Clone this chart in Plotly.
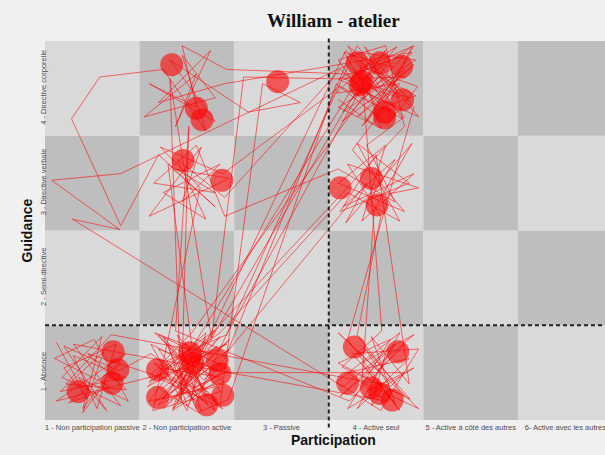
import plotly.graph_objects as go

# ---------------- data ----------------
participation_labels = ["1 - Non participation passive", "2 - Non participation active", "3 - Passive",
                        "4 - Active seul", "5 - Active à côté des autres", "6- Active avec les autres"]
guidance_labels = ["1 - Absence", "2 - Semi-directive", "3 - Directive verbale", "4 - Directive corporelle"]

sequence_points = [
    (0.62,1.32),(0.95,0.72),(0.7,1.05),(1.25,1.3),(1.05,0.62),(0.8,1.18),(1.35,0.95),(0.66,0.8),(1.12,1.22),(0.9,0.58),
    (1.3,1.1),(0.75,0.68),(1.2,0.85),(0.6,1.15),(1.02,1.35),(1.38,0.7),(0.85,0.95),(1.15,0.6),(0.7,1.28),(1.28,1.02),
    (1.62,1.2),(2.3,0.7),(1.75,1.38),(2.1,0.62),(1.9,1.1),(2.42,1.3),(1.58,0.85),(2.2,1.42),(2.05,0.75),(1.7,1.05),
    (2.38,0.95),(1.85,0.6),(2.15,1.25),(1.95,0.9),(2.35,1.38),(1.65,0.68),(2.25,1.05),(1.8,1.3),(2.0,0.65),(2.4,1.15),
    (3.72,4.35),(4.2,3.8),(3.6,4.1),(4.4,4.45),(3.9,3.65),(4.3,4.2),(3.65,3.75),(4.1,4.4),(3.8,4.0),(4.45,3.7),
    (3.95,4.3),(3.58,3.95),(4.25,4.05),(3.85,3.6),(4.38,4.38),
    (2.4,4.05),(1.7,3.85),(2.25,4.4),(1.88,3.6),(2.1,4.15),(1.55,3.7),(2.3,3.9),(1.95,4.35),(2.2,3.55),(1.75,4.2),
    (1.08,4.12),(0.78,3.68),(1.3,2.55),
    (1.7,3.3),(2.3,2.75),(1.85,3.15),(2.45,3.05),(1.6,2.65),(2.15,3.38),(1.95,2.8),(2.35,3.2),(1.75,2.9),(2.2,2.62),
    (1.9,3.25),(2.4,2.85),
    (3.62,4.2),(4.15,3.75),(3.7,4.45),(4.35,3.9),(3.9,4.05),(4.05,3.58),(3.6,3.8),(4.42,4.3),(3.82,4.38),(4.2,3.95),
    (3.75,3.35),(4.3,2.7),(3.6,3.0),(4.1,3.4),(3.85,2.6),(4.4,3.1),(3.65,2.75),(4.2,3.25),(3.95,2.85),(4.45,2.95),
    (3.7,3.2),(4.05,2.65),
    (3.8,1.4),(4.3,0.75),(3.6,1.1),(4.15,1.35),(3.7,0.62),(4.4,1.05),(3.9,0.8),(4.25,1.42),(3.58,0.9),(4.05,0.6),
    (4.45,1.25),(3.75,1.2),(4.2,0.68),(3.95,1.38),(4.35,0.88),
    (4.0,3.3),(3.62,2.7),(4.35,3.0),(3.8,3.42),(4.25,2.6),(3.7,2.9),
    (2.35,1.42),(1.6,0.9),(2.1,1.3),(1.85,0.62),(2.42,1.05),(1.7,1.4),(2.2,0.8),(1.95,1.2),(2.3,0.6),(1.65,1.1),
    (2.05,0.95),(2.45,1.35),(1.8,0.75),(2.15,1.15),(1.9,0.68),
    (3.68,4.4),(4.2,4.0),(3.8,3.7),(4.4,4.25),(3.92,3.85),(3.6,4.3),(4.1,4.45),(4.3,3.6),
    (2.25,1.4),(1.75,0.72),(2.4,0.9),(1.62,1.3),(2.0,0.6),(2.2,1.2),(1.85,1.0),(2.35,0.65),
    (2.8,4.05),(3.2,3.85),(2.65,3.75),
    (1.82,4.3),(2.3,3.65),(1.6,4.05),(2.1,3.8),(1.95,4.45),(2.42,4.2),
    (3.75,4.15),(4.3,4.35),(3.64,3.65),(4.1,4.0),(3.88,4.44),(4.4,3.8),
    (3.7,1.35),(4.25,0.6),(3.85,1.1),(4.4,1.4),(3.62,0.75),(4.1,1.2),(3.95,0.65),(4.3,1.0),
    (2.4,1.0),(1.7,1.25),(2.15,0.6),(1.9,1.4),(2.3,0.85),(1.6,0.7),(2.05,1.3),
    (1.8,3.2),(2.3,2.9),(1.65,3.0),(2.1,3.4),(2.4,2.65),
    (3.6,3.15),(4.2,2.8),(3.9,3.4),(4.3,3.7),(3.7,4.25),
    (1.3,3.1),(0.57,3.03),(1.29,2.51),(0.79,2.62),
    (3.65,0.85),(4.2,1.3),(3.8,0.62),(4.35,1.15),(3.7,1.0),(4.1,0.7),
    (0.8,1.3),(1.3,0.65),(0.68,0.95),(1.1,1.38),(0.9,0.62),(1.35,1.2),(0.62,0.7),
    (2.2,1.1),(1.75,0.62),(2.45,1.25),(1.9,0.85),(2.3,1.45),(1.68,1.0),(2.1,0.7),
    (3.8,4.45),(4.25,3.9),(3.66,4.1),(4.15,4.3),
    (2.05,1.42),(1.62,0.98),(2.38,0.62),(1.98,1.02),(2.32,1.28),(1.72,0.82),(2.12,0.58),(2.44,0.72),
    (3.58,4.05),(4.12,3.62),(4.44,4.02),(3.86,4.22),(4.22,4.44),(3.72,3.86),
    (1.92,0.78),(2.28,1.18),(1.66,1.42),(2.18,0.92),
    (3.9,3.0),(3.68,2.58),(4.38,3.42),(3.98,2.72),
    (3.85,0.9),(4.45,0.62),(3.6,1.42),(4.02,1.02),(4.3,1.3),(3.72,0.7),
    (1.88,1.44),(2.02,3.6),(1.94,0.7),(1.82,4.1),(2.26,1.36),(2.6,4.12),(3.62,4.1),
    (4.32,4.12),(3.76,3.92),(4.18,4.22),(3.66,4.38),(4.02,3.78),(4.42,3.92),(3.94,4.18),
    (2.42,1.4),(1.78,1.12),(2.22,0.66),(1.98,1.32),(2.36,0.8),(1.64,0.6),
    (2.14,2.95),(1.72,3.38),(2.38,3.1),(3.62,4.02),(4.28,3.68),(3.84,4.3),
    (4.06,1.44),(3.64,1.06),(4.36,0.72),(3.88,1.26),(4.14,0.86),
    (1.2,1.4),(0.72,0.88),(1.36,0.82),(0.95,1.2),
    (2.08,0.84),(2.44,1.02),(1.7,0.66),(2.2,1.36),(1.84,0.92),
    (3.78,4.05),(4.38,4.44),(3.98,3.62),(3.6,3.88),
]
participation = [p for p, g in sequence_points]
guidance = [g for p, g in sequence_points]

# long-duration observations (drawn as circles)
circle_participation = [1.84, 2.10, 2.16, 2.96, 1.96, 2.37,
                        3.80, 4.04, 4.27, 3.85, 3.83, 4.28, 4.09, 4.09,
                        3.62, 3.95, 4.01,
                        1.22, 1.27, 1.21, 0.85,
                        1.69, 1.69, 2.03, 2.32, 2.35, 2.21, 2.38, 2.06,
                        3.77, 4.23, 3.70, 3.95, 4.17, 4.04]
circle_guidance = [4.25, 3.79, 3.67, 4.07, 3.24, 3.03,
                   4.27, 4.27, 4.23, 4.07, 4.04, 3.88, 3.69, 3.75,
                   2.95, 3.05, 2.77,
                   1.22, 1.03, 0.89, 0.80,
                   1.03, 0.74, 1.21, 1.13, 0.99, 0.66, 0.76, 1.10,
                   1.27, 1.22, 0.89, 0.84, 0.71, 0.78]

split_participation = 3.5
split_guidance = 1.5

# ---------------- figure ----------------
W, H = 605, 455
L, R, T, B = 45, 0, 41, 35
PW, PH = W - L - R, H - T - B

fig = go.Figure()

shapes = []
for ci in range(1, len(participation_labels) + 1):
    for gi in range(1, len(guidance_labels) + 1):
        shade = "#d9d9d9" if (ci + gi) % 2 == 1 else "#bebebe"
        shapes.append(dict(type="rect", xref="x", yref="y", x0=ci - 0.5, x1=ci + 0.5,
                           y0=gi - 0.5, y1=gi + 0.5, fillcolor=shade, line=dict(width=0),
                           layer="below"))
shapes.append(dict(type="line", xref="x", yref="paper", x0=split_participation, x1=split_participation,
                   y0=-0.02, y1=1.01, line=dict(color="#222222", width=2, dash="4px,3px")))
shapes.append(dict(type="line", xref="paper", yref="y", x0=0, x1=1, y0=split_guidance, y1=split_guidance,
                   line=dict(color="#222222", width=2, dash="4px,3px")))

fig.add_trace(go.Scatter(x=participation, y=guidance, mode="lines",
                         line=dict(color="rgba(255,0,0,0.8)", width=0.7),
                         hoverinfo="skip", showlegend=False))
fig.add_trace(go.Scatter(x=circle_participation, y=circle_guidance, mode="markers",
                         marker=dict(color="rgba(255,0,0,0.6)", size=23, line=dict(width=0)),
                         showlegend=False))

tick_font = dict(family="Liberation Sans, Arial", size=7.5, color="#4d4d4d")
fig.update_layout(
    width=W, height=H,
    margin=dict(l=L, r=R, t=T, b=B),
    paper_bgcolor="#f0f0f0", plot_bgcolor="#f0f0f0",
    shapes=shapes,
    xaxis=dict(range=[0.5, 6.42], tickvals=list(range(1, 7)), ticktext=participation_labels,
               tickangle=0, automargin=False, ticklabelstandoff=1, ticklabeloverflow="allow",
               showgrid=False, zeroline=False, showline=False, ticks="",
               tickfont=tick_font, fixedrange=True),
    yaxis=dict(range=[0.5, 4.5], tickvals=list(range(1, 5)), ticktext=guidance_labels,
               tickangle=-90, automargin=False, ticklabelstandoff=-3, ticklabeloverflow="allow",
               showgrid=False, zeroline=False, showline=False, ticks="",
               tickfont=tick_font, fixedrange=True),
    annotations=[
        dict(text="<b>William - atelier</b>", xref="paper", yref="paper",
             x=(333 - L) / PW, y=1 + (T - 20) / PH, xanchor="center", yanchor="middle",
             showarrow=False, font=dict(family="Liberation Serif, Times New Roman", size=19, color="#111111")),
        dict(text="<b>Participation</b>", xref="paper", yref="paper",
             x=(333 - L) / PW, y=-(440 - (H - B)) / PH, xanchor="center", yanchor="middle",
             showarrow=False, font=dict(family="Liberation Sans, Arial", size=14, color="#111111")),
        dict(text="<b>Guidance</b>", xref="paper", yref="paper", textangle=-90,
             x=-(L - 26) / PW, y=0.5, xanchor="center", yanchor="middle",
             showarrow=False, font=dict(family="Liberation Sans, Arial", size=14, color="#111111")),
    ],
)

fig.write_html("out.html", config={"displayModeBar": False, "staticPlot": True},
               post_script="document.body.style.margin='0';document.body.style.overflow='hidden';")
